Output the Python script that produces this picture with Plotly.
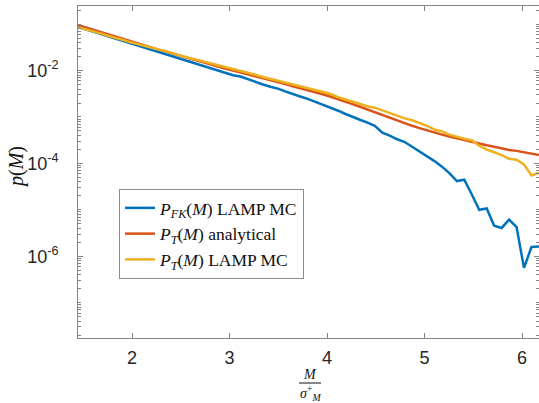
import plotly.graph_objects as go

# x positions of the bins (M / sigma_M^+)
m_over_sigma = [1.430, 1.507, 1.583, 1.660, 1.736, 1.813, 1.889, 1.966, 2.042, 2.119,
                2.195, 2.272, 2.348, 2.425, 2.501, 2.578, 2.654, 2.731, 2.807, 2.884,
                2.960, 3.037, 3.113, 3.190, 3.266, 3.343, 3.419, 3.496, 3.572, 3.649,
                3.725, 3.802, 3.878, 3.955, 4.031, 4.108, 4.184, 4.261, 4.337, 4.414,
                4.490, 4.567, 4.643, 4.720, 4.796, 4.873, 4.949, 5.026, 5.102, 5.179,
                5.255, 5.332, 5.408, 5.485, 5.561, 5.638, 5.714, 5.791, 5.867, 5.944,
                6.020, 6.097, 6.173]

# log10 of p(M)
log10_p_fk_mc = [-1.05, -1.10, -1.15, -1.20, -1.26, -1.31, -1.36, -1.41, -1.46, -1.51,
                 -1.56, -1.61, -1.66, -1.71, -1.75, -1.80, -1.85, -1.90, -1.96, -2.01,
                 -2.05, -2.10, -2.13, -2.19, -2.25, -2.30, -2.35, -2.39, -2.45, -2.51,
                 -2.56, -2.61, -2.67, -2.73, -2.79, -2.86, -2.93, -3.00, -3.06, -3.12,
                 -3.19, -3.34, -3.40, -3.48, -3.54, -3.64, -3.74, -3.84, -3.95, -4.07,
                 -4.21, -4.38, -4.35, -4.67, -5.00, -4.97, -5.34, -5.39, -5.21, -5.37,
                 -6.25, -5.80, -5.79]

log10_p_t_analytical = [-1.01, -1.06, -1.11, -1.16, -1.21, -1.26, -1.31, -1.36, -1.41, -1.45,
                        -1.50, -1.55, -1.59, -1.64, -1.69, -1.73, -1.78, -1.82, -1.87, -1.91,
                        -1.96, -2.00, -2.04, -2.08, -2.13, -2.17, -2.21, -2.25, -2.29, -2.34,
                        -2.38, -2.42, -2.47, -2.51, -2.56, -2.62, -2.67, -2.72, -2.78, -2.84,
                        -2.89, -2.96, -3.01, -3.07, -3.13, -3.19, -3.24, -3.29, -3.34, -3.38,
                        -3.42, -3.46, -3.49, -3.53, -3.57, -3.61, -3.64, -3.68, -3.71, -3.73,
                        -3.76, -3.79, -3.82]

log10_p_t_mc = [-1.06, -1.10, -1.15, -1.19, -1.24, -1.28, -1.33, -1.38, -1.42, -1.47,
                -1.51, -1.55, -1.59, -1.63, -1.68, -1.72, -1.76, -1.80, -1.84, -1.88,
                -1.92, -1.96, -2.00, -2.04, -2.09, -2.14, -2.18, -2.21, -2.25, -2.29,
                -2.33, -2.37, -2.41, -2.46, -2.50, -2.57, -2.62, -2.66, -2.71, -2.77,
                -2.80, -2.86, -2.92, -2.97, -3.03, -3.07, -3.13, -3.19, -3.27, -3.31,
                -3.38, -3.43, -3.47, -3.50, -3.62, -3.70, -3.76, -3.82, -3.90, -3.92,
                -4.02, -4.26, -4.20]

series_names = ["<i>P</i><sub><i>FK</i></sub>(<i>M</i>) LAMP MC",
                "<i>P</i><sub><i>T</i></sub>(<i>M</i>) analytical",
                "<i>P</i><sub><i>T</i></sub>(<i>M</i>) LAMP MC"]
series_colors = ["#0072BD", "#D95319", "#EDB120"]

y_major_ticks = [1e-6, 1e-4, 1e-2]
y_major_text = ["10<sup>-6</sup>", "10<sup>-4</sup>", "10<sup>-2</sup>"]
x_ticks = [2, 3, 4, 5, 6]

fig = go.Figure()
for logs, name, color in zip([log10_p_fk_mc, log10_p_t_analytical, log10_p_t_mc],
                             series_names, series_colors):
    fig.add_trace(go.Scatter(
        x=m_over_sigma, y=[10 ** v for v in logs], mode="lines", name=name,
        line=dict(color=color, width=2.5)))

minor_vals = [m * 10.0 ** e for e in range(-8, 0) for m in range(1, 10)]
minor_vals = [v for v in minor_vals if v not in y_major_ticks]

axis_color = "#858585"
tick_font = dict(family="Liberation Sans, Arial, sans-serif", size=18, color="#262626")

fig.update_layout(
    width=539, height=403,
    margin=dict(l=78, r=0, t=6, b=65, autoexpand=False),
    paper_bgcolor="white", plot_bgcolor="white",
    showlegend=True,
    legend=dict(
        x=(119 - 78) / 461, y=(338 - 189) / 332, xanchor="left", yanchor="top",
        bgcolor="white", bordercolor="#8c8c8c", borderwidth=1,
        font=dict(family="Liberation Serif, Times New Roman, serif", size=17.5, color="#111"),
        itemwidth=30, tracegroupgap=0),
    xaxis=dict(
        range=[1.446, 6.174], tickvals=x_ticks, ticks="inside", ticklen=5,
        tickcolor=axis_color, showline=True, linecolor=axis_color, linewidth=1,
        mirror="ticks", showgrid=False, zeroline=False, tickfont=tick_font,
        ticklabelstandoff=3, automargin=False),
    yaxis=dict(
        type="log", range=[-7.76, -0.61], tickvals=y_major_ticks, ticktext=y_major_text,
        ticks="inside", ticklen=5, tickcolor=axis_color, showline=True,
        linecolor=axis_color, linewidth=1, mirror="ticks", showgrid=False,
        zeroline=False, tickfont=tick_font, ticklabelstandoff=15, automargin=False,
        minor=dict(tickvals=minor_vals, ticks="inside", ticklen=3, tickcolor=axis_color)),
)

serif = "Liberation Serif, Times New Roman, serif"
fig.add_annotation(
    text="<i>p</i>(<i>M</i>)", xref="paper", yref="paper",
    x=(16 - 78) / 461, y=(338 - 167) / 332, textangle=-90, showarrow=False,
    xanchor="center", yanchor="middle",
    font=dict(family=serif, size=20, color="#111"))
fig.add_annotation(
    text="<i>M</i>", xref="paper", yref="paper",
    x=(310 - 78) / 461, y=(338 - 374) / 332, showarrow=False,
    xanchor="center", yanchor="middle",
    font=dict(family=serif, size=14, color="#111"))
fig.add_annotation(
    text="<i>σ</i><sup>+</sup><sub><i>M</i></sub>", xref="paper", yref="paper",
    x=(310 - 78) / 461, y=(338 - 393) / 332, showarrow=False,
    xanchor="center", yanchor="middle",
    font=dict(family=serif, size=14, color="#111"))
fig.add_shape(
    type="line", xref="paper", yref="paper",
    x0=(299 - 78) / 461, x1=(321 - 78) / 461,
    y0=(338 - 383) / 332, y1=(338 - 383) / 332,
    line=dict(color="#111", width=1))

fig.write_html("out.html", config={"displayModeBar": False},
               post_script="document.body.style.margin='0';document.body.style.overflow='hidden';")
